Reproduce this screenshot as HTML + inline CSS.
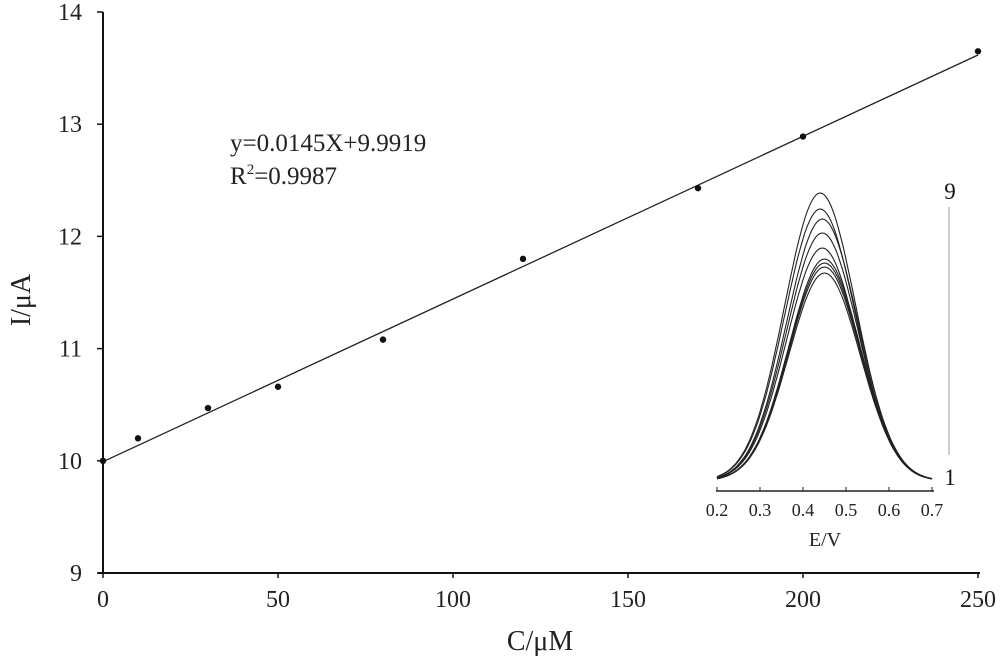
<!DOCTYPE html>
<html><head><meta charset="utf-8"><style>
body{margin:0;background:#fff}
svg{display:block;font-family:"Liberation Serif",serif}
</style></head><body>
<svg id="chart" width="1000" height="666" viewBox="0 0 1000 666">
<g id="main"></g>
<g id="inset"></g>
</svg>
<script>
const concentrations=[0,10,30,50,80,120,170,200,250];
const currents=[10.0,10.2,10.47,10.66,11.08,11.8,12.43,12.89,13.65];
const xTicks=[0,50,100,150,200,250];
const yTicks=[9,10,11,12,13,14];
const slope=0.0145, intercept=9.9919;
const insetE=[0.2,0.3,0.4,0.5,0.6,0.7];
const peakHeights=[288,272,262,248,233,222,218,214,208];
const peakCenters=[0.44,0.44,0.445,0.445,0.445,0.45,0.45,0.45,0.45];

const NS="http://www.w3.org/2000/svg";
function mk(parent,tag,attrs,text){const e=document.createElementNS(NS,tag);for(const k in attrs)e.setAttribute(k,attrs[k]);if(text!==undefined)e.textContent=text;parent.appendChild(e);return e;}
const X=v=>103+v*3.5;
const Y=v=>573-(v-9)*112.2;
const main=document.getElementById('main');
let el;
el=mk(main,'line',{x1:103,y1:12,x2:103,y2:573,stroke:'#111','stroke-width':2});


el=mk(main,'line',{x1:98,y1:573,x2:980,y2:573,stroke:'#111','stroke-width':2});


yTicks.forEach(t=>{
 el=mk(main,'line',{x1:97,y1:Y(t),x2:103,y2:Y(t),stroke:'#111','stroke-width':1.5});
 
 
 el=mk(main,'text',{x:82,y:Y(t)+8,'font-size':24,'text-anchor':'end',fill:'#222'},t);
 
 
});
xTicks.forEach(t=>{
 el=mk(main,'line',{x1:X(t),y1:573,x2:X(t),y2:578,stroke:'#111','stroke-width':1.5});
 
 
 el=mk(main,'text',{x:X(t),y:607,'font-size':24,'text-anchor':'middle',fill:'#222'},t);
 
 
});
el=mk(main,'line',{x1:X(0),y1:Y(intercept),x2:X(250),y2:Y(intercept+slope*250),stroke:'#222','stroke-width':1.3});


concentrations.forEach((c,i)=>{
 el=mk(main,'circle',{cx:X(c),cy:Y(currents[i]),r:3.2,fill:'#111'});
 
 
});
el=mk(main,'text',{x:230,y:151,'font-size':25,fill:'#222'},'y=0.0145X+9.9919');


el=mk(main,'text',{x:230,y:184,'font-size':25,fill:'#222'});
el.innerHTML='R<tspan font-size="15" dy="-10">2</tspan><tspan dy="10">=0.9987</tspan>';


el=mk(main,'text',{x:540,y:650,'font-size':28,'text-anchor':'middle',fill:'#222'},'C/μM');


el=mk(main,'text',{x:0,y:0,'font-size':28,'text-anchor':'middle',fill:'#222',transform:'translate(30,300) rotate(-90)'},'I/μA');



// inset
const ins=document.getElementById('inset');
const IX=e=>717+(e-0.2)*430;
const base=481, sigma=0.083;
el=mk(ins,'line',{x1:716,y1:491,x2:934,y2:491,stroke:'#222','stroke-width':1.5});


insetE.forEach(e=>{
 el=mk(ins,'line',{x1:IX(e),y1:487,x2:IX(e),y2:491,stroke:'#222','stroke-width':1});
 
 
 el=mk(ins,'text',{x:IX(e),y:516,'font-size':18,'text-anchor':'middle',fill:'#222'},e.toFixed(1));
 
 
});
el=mk(ins,'text',{x:825,y:546,'font-size':20,'text-anchor':'middle',fill:'#222'},'E/V');


peakHeights.forEach((h,i)=>{
 let d='';
 for(let k=0;k<=100;k++){const e=0.2+k*0.005;const y=base-h*Math.exp(-Math.pow(e-peakCenters[i],2)/(2*sigma*sigma));d+=(k?'L':'M')+IX(e).toFixed(1)+','+y.toFixed(1);}
 el=mk(ins,'path',{d:d,fill:'none',stroke:'#222','stroke-width':1.1});
 
 
});
el=mk(ins,'line',{x1:949,y1:207,x2:949,y2:455,stroke:'#bbb','stroke-width':1.5});


el=mk(ins,'text',{x:950,y:199,'font-size':23,'text-anchor':'middle',fill:'#111'},'9');


el=mk(ins,'text',{x:950,y:485,'font-size':23,'text-anchor':'middle',fill:'#111'},'1');


</script>
</body></html>
